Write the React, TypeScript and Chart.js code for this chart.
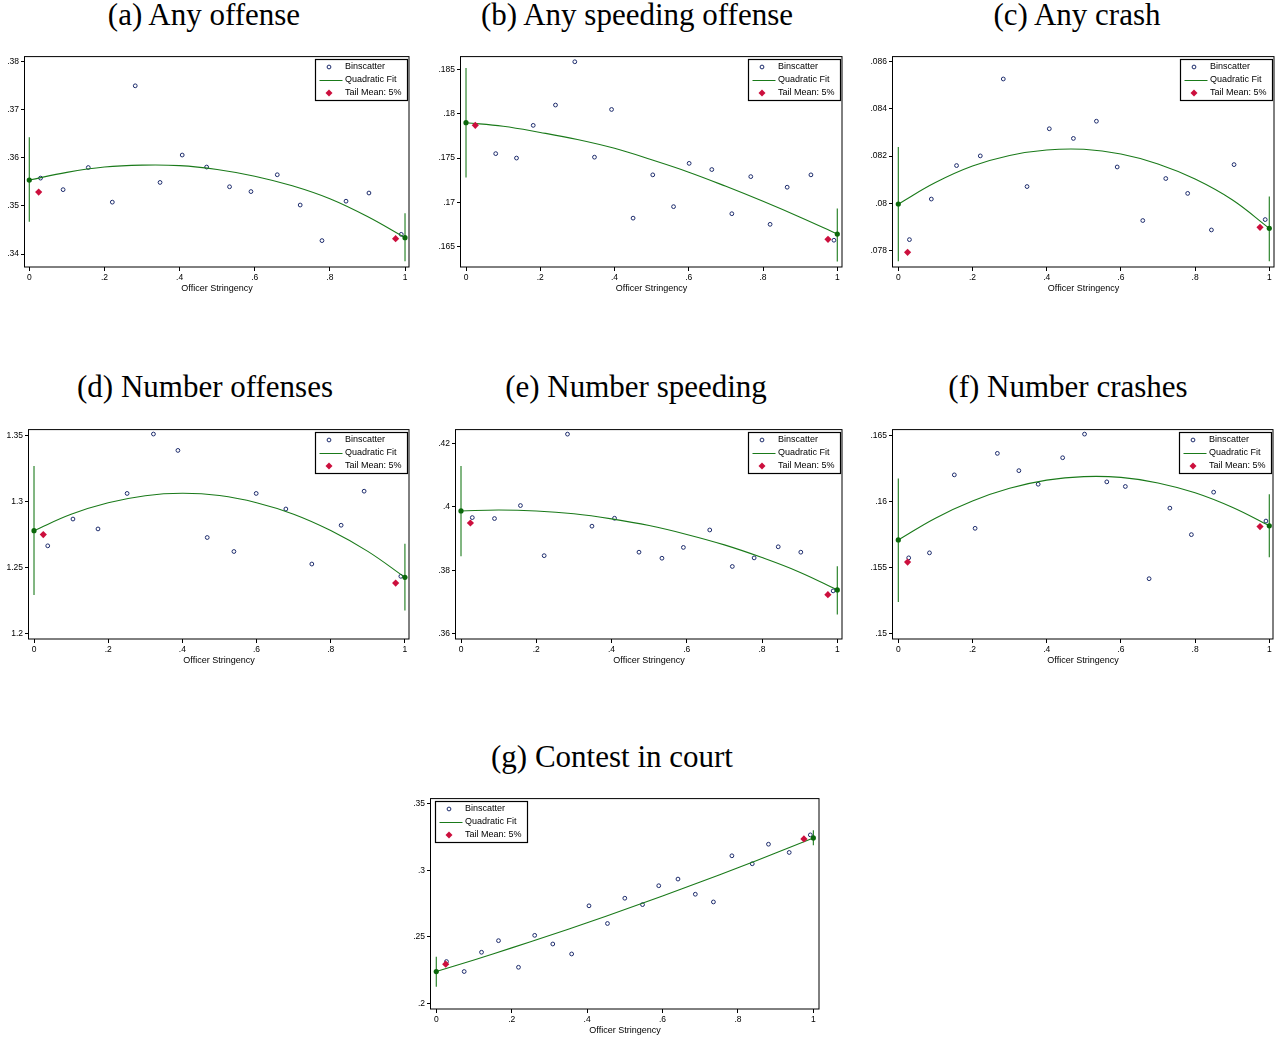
import React, { useEffect, useRef } from "react";
import { Chart, registerables } from "chart.js";

Chart.register(...registerables);
Chart.defaults.font.family = "'Liberation Sans', Arial, sans-serif";
Chart.defaults.color = "#000";

// ---------- shared ----------
const xTicks = [0, 0.2, 0.4, 0.6, 0.8, 1];
const fitX = [0, 0.1, 0.2, 0.3, 0.4, 0.5, 0.6, 0.7, 0.8, 0.9, 1];
const endX = [0, 1];
const tailX = [0.025, 0.975];
const xAxisTitle = "Officer Stringency";
const legendLabels = ["Binscatter", "Quadratic Fit", "Tail Mean: 5%"];

// ---------- (a) Any offense ----------
const aTitle = "(a) Any offense";
const aYTicks = [0.34, 0.35, 0.36, 0.37, 0.38];
const aBinX = [0.03, 0.09, 0.157, 0.221, 0.282, 0.348, 0.407, 0.472, 0.533, 0.59, 0.66, 0.721, 0.779, 0.843, 0.904, 0.99];
const aBinY = [0.3558, 0.3534, 0.358, 0.3508, 0.375, 0.3549, 0.3606, 0.3581, 0.354, 0.353, 0.3565, 0.3502, 0.3428, 0.351, 0.3527, 0.3441];
const aFitY = [0.3554, 0.357, 0.3581, 0.3585, 0.3584, 0.3576, 0.3562, 0.3542, 0.3515, 0.3478, 0.3434];
const aEndY = [0.3554, 0.3434];
const aCiLo = [0.3467, 0.3385];
const aCiHi = [0.3643, 0.3485];
const aTailY = [0.3529, 0.3432];

// ---------- (b) Any speeding offense ----------
const bTitle = "(b) Any speeding offense";
const bYTicks = [0.165, 0.17, 0.175, 0.18, 0.185];
const bBinX = [0.08, 0.136, 0.181, 0.241, 0.293, 0.346, 0.392, 0.45, 0.503, 0.559, 0.601, 0.662, 0.716, 0.767, 0.819, 0.865, 0.929, 0.991];
const bBinY = [0.1755, 0.175, 0.1787, 0.181, 0.1859, 0.1751, 0.1805, 0.1682, 0.1731, 0.1695, 0.1744, 0.1737, 0.1687, 0.1729, 0.1675, 0.1717, 0.1731, 0.1657];
const bFitY = [0.179, 0.1786, 0.1779, 0.1771, 0.1761, 0.1748, 0.1734, 0.1718, 0.1701, 0.1683, 0.1664];
const bEndY = [0.179, 0.1664];
const bCiLo = [0.1728, 0.1633];
const bCiHi = [0.1852, 0.1693];
const bTailY = [0.1787, 0.1658];

// ---------- (c) Any crash ----------
const cTitle = "(c) Any crash";
const cYTicks = [0.078, 0.08, 0.082, 0.084, 0.086];
const cBinX = [0.03, 0.089, 0.157, 0.221, 0.283, 0.347, 0.407, 0.472, 0.534, 0.59, 0.659, 0.721, 0.78, 0.844, 0.905, 0.989];
const cBinY = [0.07846, 0.08018, 0.0816, 0.08201, 0.08527, 0.08071, 0.08316, 0.08275, 0.08348, 0.08154, 0.07927, 0.08105, 0.08042, 0.07887, 0.08164, 0.07931];
const cFitY = [0.07997, 0.08088, 0.08158, 0.08203, 0.08226, 0.08229, 0.08209, 0.08167, 0.08103, 0.08015, 0.07894];
const cEndY = [0.07997, 0.07894];
const cCiLo = [0.07754, 0.07754];
const cCiHi = [0.08239, 0.08029];
const cTailY = [0.07792, 0.07898];

// ---------- (d) Number offenses ----------
const dTitle = "(d) Number offenses";
const dYTicks = [1.2, 1.25, 1.3, 1.35];
const dBinX = [0.037, 0.105, 0.1725, 0.251, 0.322, 0.388, 0.467, 0.539, 0.599, 0.679, 0.749, 0.828, 0.89, 0.989];
const dBinY = [1.2666, 1.2869, 1.2794, 1.3063, 1.3513, 1.3389, 1.2729, 1.2623, 1.3063, 1.2945, 1.2528, 1.2822, 1.308, 1.2435];
const dFitY = [1.2781, 1.2905, 1.2992, 1.3046, 1.3064, 1.3047, 1.2993, 1.2906, 1.2782, 1.2624, 1.2427];
const dEndY = [1.2781, 1.2427];
const dCiLo = [1.2294, 1.2176];
const dCiHi = [1.3271, 1.2681];
const dTailY = [1.2751, 1.2384];

// ---------- (e) Number speeding ----------
const eTitle = "(e) Number speeding";
const eYTicks = [0.36, 0.38, 0.4, 0.42];
const eBinX = [0.03, 0.089, 0.158, 0.221, 0.283, 0.348, 0.408, 0.473, 0.534, 0.591, 0.661, 0.721, 0.779, 0.843, 0.903, 0.989];
const eBinY = [0.3966, 0.3963, 0.4004, 0.3846, 0.4229, 0.3939, 0.3964, 0.3857, 0.3838, 0.3872, 0.3927, 0.3812, 0.3839, 0.3874, 0.3857, 0.3735];
const eFitY = [0.3987, 0.399, 0.3987, 0.3978, 0.3962, 0.3941, 0.3913, 0.388, 0.384, 0.3794, 0.3738];
const eEndY = [0.3987, 0.3738];
const eCiLo = [0.3844, 0.3661];
const eCiHi = [0.4129, 0.3813];
const eTailY = [0.3949, 0.3723];

// ---------- (f) Number crashes ----------
const fTitle = "(f) Number crashes";
const fYTicks = [0.15, 0.155, 0.16, 0.165];
const fBinX = [0.028, 0.084, 0.151, 0.207, 0.267, 0.325, 0.377, 0.443, 0.502, 0.562, 0.612, 0.676, 0.732, 0.79, 0.85, 0.991];
const fBinY = [0.15575, 0.15613, 0.16204, 0.15799, 0.16367, 0.16236, 0.16133, 0.16334, 0.16513, 0.16151, 0.16116, 0.15417, 0.15952, 0.15751, 0.16073, 0.15854];
const fFitY = [0.15711, 0.15876, 0.16006, 0.16102, 0.16164, 0.16191, 0.16185, 0.16143, 0.16068, 0.15958, 0.15818];
const fEndY = [0.15711, 0.15818];
const fCiLo = [0.15241, 0.1558];
const fCiHi = [0.16176, 0.16058];
const fTailY = [0.15543, 0.15812];

// ---------- (g) Contest in court ----------
const gTitle = "(g) Contest in court";
const gYTicks = [0.2, 0.25, 0.3, 0.35];
const gBinX = [0.027, 0.074, 0.12, 0.165, 0.218, 0.261, 0.309, 0.359, 0.405, 0.454, 0.5, 0.547, 0.59, 0.641, 0.687, 0.735, 0.784, 0.838, 0.881, 0.936, 0.992];
const gBinY = [0.2314, 0.2239, 0.2384, 0.2471, 0.2271, 0.2511, 0.2446, 0.2371, 0.2733, 0.26, 0.279, 0.2742, 0.2884, 0.2934, 0.282, 0.2762, 0.3109, 0.3049, 0.3196, 0.3134, 0.3266];
const gFitY = [0.2239, 0.2326, 0.2417, 0.251, 0.2606, 0.2705, 0.2807, 0.2912, 0.3019, 0.313, 0.3243];
const gEndY = [0.2239, 0.3243];
const gCiLo = [0.2124, 0.3189];
const gCiHi = [0.2351, 0.3301];
const gTailY = [0.2294, 0.3236];

// ---------- styles ----------
const NAVY = "#1b2a6b";
const GREEN_LINE = "#1a7a1a";
const GREEN_DOT = "#0b680b";
const RED = "#cc0f3d";

type Panel = {
  title: string;
  cx: number;
  baseline: number;
  L: number; T: number; R: number; B: number;
  xMin: number; xMax: number; yMin: number; yMax: number;
  yTicks: number[];
  binX: number[]; binY: number[]; fitY: number[];
  endY: number[]; ciLo: number[]; ciHi: number[]; tailY: number[];
  corner: "tl" | "tr";
};

const panels: Panel[] = [
  { title: aTitle, cx: 204, baseline: 25, L: 25, T: 55, R: 409, B: 267, xMin: -0.0114, xMax: 1.0106, yMin: 0.33731, yMax: 0.38118, yTicks: aYTicks, binX: aBinX, binY: aBinY, fitY: aFitY, endY: aEndY, ciLo: aCiLo, ciHi: aCiHi, tailY: aTailY, corner: "tr" },
  { title: bTitle, cx: 637, baseline: 25, L: 461, T: 55, R: 842, B: 267, xMin: -0.0135, xMax: 1.0127, yMin: 0.16267, yMax: 0.18654, yTicks: bYTicks, binX: bBinX, binY: bBinY, fitY: bFitY, endY: bEndY, ciLo: bCiLo, ciHi: bCiHi, tailY: bTailY, corner: "tr" },
  { title: cTitle, cx: 1077, baseline: 25, L: 893, T: 55, R: 1274, B: 267, xMin: -0.0143, xMax: 1.0127, yMin: 0.0773, yMax: 0.08624, yTicks: cYTicks, binX: cBinX, binY: cBinY, fitY: cFitY, endY: cEndY, ciLo: cCiLo, ciHi: cCiHi, tailY: cTailY, corner: "tr" },
  { title: dTitle, cx: 205, baseline: 397, L: 29, T: 428, R: 409, B: 639, xMin: -0.0135, xMax: 1.011, yMin: 1.196, yMax: 1.35505, yTicks: dYTicks, binX: dBinX, binY: dBinY, fitY: dFitY, endY: dEndY, ciLo: dCiLo, ciHi: dCiHi, tailY: dTailY, corner: "tr" },
  { title: eTitle, cx: 636, baseline: 397, L: 456, T: 428, R: 842, B: 639, xMin: -0.0133, xMax: 1.0125, yMin: 0.35834, yMax: 0.42449, yTicks: eYTicks, binX: eBinX, binY: eBinY, fitY: eFitY, endY: eEndY, ciLo: eCiLo, ciHi: eCiHi, tailY: eTailY, corner: "tr" },
  { title: fTitle, cx: 1068, baseline: 397, L: 893, T: 428, R: 1273, B: 639, xMin: -0.0143, xMax: 1.01, yMin: 0.1496, yMax: 0.16551, yTicks: fYTicks, binX: fBinX, binY: fBinY, fitY: fFitY, endY: fEndY, ciLo: fCiLo, ciHi: fCiHi, tailY: fTailY, corner: "tr" },
  { title: gTitle, cx: 612, baseline: 767, L: 431, T: 797, R: 819, B: 1009, xMin: -0.014, xMax: 1.015, yMin: 0.19574, yMax: 0.35426, yTicks: gYTicks, binX: gBinX, binY: gBinY, fitY: gFitY, endY: gEndY, ciLo: gCiLo, ciHi: gCiHi, tailY: gTailY, corner: "tl" },
];

const fmt = (v: number) => {
  const s = String(+Number(v).toFixed(4));
  return s.startsWith("0.") ? s.slice(1) : s;
};

const framePlugin = {
  id: "frameBox",
  afterDatasetsDraw(chart: any) {
    const { ctx, chartArea: ca } = chart;
    ctx.save();
    ctx.strokeStyle = "#000";
    ctx.lineWidth = 1;
    ctx.strokeRect(ca.left - 0.5, ca.top + 0.5, ca.right - ca.left + 0.5, ca.bottom - ca.top - 0.5);
    ctx.restore();
  },
};

const legendPlugin = {
  id: "boxLegend",
  afterDraw(chart: any, _args: any, opts: any) {
    const { ctx, chartArea: ca } = chart;
    const w = 93;
    const h = 42;
    const x = opts.corner === "tl" ? Math.round(ca.left + 3.5) : Math.round(ca.right - 1.5 - w);
    const y = Math.round(ca.top + 3);
    ctx.save();
    ctx.fillStyle = "#fff";
    ctx.fillRect(x, y, w, h);
    ctx.strokeStyle = "#000";
    ctx.lineWidth = 1.2;
    ctx.strokeRect(x + 0.5, y + 0.5, w - 1, h - 1);
    const rows = [y + 8, y + 21, y + 34];
    const sx = x + 14;
    // circle
    ctx.beginPath();
    ctx.arc(sx, rows[0], 1.9, 0, Math.PI * 2);
    ctx.strokeStyle = NAVY;
    ctx.lineWidth = 1;
    ctx.stroke();
    // line
    ctx.beginPath();
    ctx.moveTo(x + 4.5, rows[1] + 0.5);
    ctx.lineTo(x + 27.5, rows[1] + 0.5);
    ctx.strokeStyle = GREEN_LINE;
    ctx.lineWidth = 1;
    ctx.stroke();
    // diamond
    ctx.beginPath();
    ctx.moveTo(sx, rows[2] - 3.5);
    ctx.lineTo(sx + 3.5, rows[2]);
    ctx.lineTo(sx, rows[2] + 3.5);
    ctx.lineTo(sx - 3.5, rows[2]);
    ctx.closePath();
    ctx.fillStyle = RED;
    ctx.fill();
    ctx.fillStyle = "#000";
    ctx.font = "9px 'Liberation Sans', Arial, sans-serif";
    ctx.textBaseline = "middle";
    ctx.textAlign = "left";
    (opts.labels as string[]).forEach((t, i) => ctx.fillText(t, x + 30, rows[i]));
    ctx.restore();
  },
};

const YW = 30;
const PT = 6;
const PR = 6;
const XH = 31;

function PanelChart({ p }: { p: Panel }) {
  const ref = useRef<HTMLCanvasElement>(null);
  const width = p.R - p.L + YW + PR;
  const height = p.B - p.T + PT + XH;
  useEffect(() => {
    if (!ref.current) return;
    const pts = (xs: number[], ys: number[]) => xs.map((x, i) => ({ x, y: ys[i] }));
    const chart = new Chart(ref.current, {
      type: "scatter",
      data: {
        datasets: [
          {
            label: "Fit endpoints",
            data: pts(endX, p.endY),
            pointRadius: 2.6,
            pointBackgroundColor: GREEN_DOT,
            pointBorderColor: GREEN_DOT,
            pointBorderWidth: 0,
            showLine: false,
          },
          {
            label: legendLabels[2],
            data: pts(tailX, p.tailY),
            pointStyle: "rectRot",
            pointRadius: 3.6,
            pointBackgroundColor: RED,
            pointBorderColor: RED,
            pointBorderWidth: 0,
            showLine: false,
          },
          {
            label: legendLabels[1],
            data: pts(fitX, p.fitY),
            showLine: true,
            borderColor: GREEN_LINE,
            borderWidth: 1.1,
            pointRadius: 0,
            tension: 0.4,
            fill: false,
          },
          {
            label: "CI left",
            data: [{ x: endX[0], y: p.ciLo[0] }, { x: endX[0], y: p.ciHi[0] }],
            showLine: true,
            borderColor: GREEN_LINE,
            borderWidth: 1.1,
            pointRadius: 0,
          },
          {
            label: "CI right",
            data: [{ x: endX[1], y: p.ciLo[1] }, { x: endX[1], y: p.ciHi[1] }],
            showLine: true,
            borderColor: GREEN_LINE,
            borderWidth: 1.1,
            pointRadius: 0,
          },
          {
            label: legendLabels[0],
            data: pts(p.binX, p.binY),
            pointStyle: "circle",
            pointRadius: 1.9,
            pointBackgroundColor: "rgba(255,255,255,0)",
            pointBorderColor: NAVY,
            pointBorderWidth: 1,
            showLine: false,
          },
        ] as any,
      },
      options: {
        animation: false,
        responsive: false,
        maintainAspectRatio: false,
        devicePixelRatio: 1,
        events: [],
        layout: { padding: { top: PT, right: PR, left: 0, bottom: 0 } },
        plugins: {
          legend: { display: false },
          tooltip: { enabled: false },
          boxLegend: { corner: p.corner, labels: legendLabels },
        } as any,
        scales: {
          x: {
            type: "linear",
            min: p.xMin,
            max: p.xMax,
            afterBuildTicks: (s: any) => {
              s.ticks = xTicks.map((v) => ({ value: v }));
            },
            afterFit: (s: any) => {
              s.height = XH;
            },
            grid: { display: true, drawOnChartArea: false, drawTicks: true, tickLength: 4, color: "#000", lineWidth: 1 },
            border: { display: false },
            ticks: {
              font: { size: 8.5 },
              color: "#000",
              padding: 2,
              maxRotation: 0,
              autoSkip: false,
              callback: (v: any) => fmt(v),
            },
            title: {
              display: true,
              text: xAxisTitle,
              font: { size: 9 },
              color: "#000",
              padding: { top: 0, bottom: 4 },
            },
          },
          y: {
            type: "linear",
            min: p.yMin,
            max: p.yMax,
            afterBuildTicks: (s: any) => {
              s.ticks = p.yTicks.map((v) => ({ value: v }));
            },
            afterFit: (s: any) => {
              s.width = YW;
            },
            grid: { display: true, drawOnChartArea: false, drawTicks: true, tickLength: 4, color: "#000", lineWidth: 1 },
            border: { display: false },
            ticks: {
              font: { size: 8.5 },
              color: "#000",
              padding: 2,
              autoSkip: false,
              callback: (v: any) => fmt(v),
            },
          },
        } as any,
      },
      plugins: [framePlugin, legendPlugin],
    });
    return () => chart.destroy();
  }, [p]);
  return (
    <canvas
      ref={ref}
      width={width}
      height={height}
      style={{ position: "absolute", left: p.L - YW, top: p.T - PT, width, height }}
    />
  );
}

export default function App() {
  return (
    <div style={{ position: "absolute", left: 0, top: 0, width: 1281, height: 1040, background: "#fff", overflow: "hidden" }}>
      {panels.map((p) => (
        <div
          key={p.title + "-t"}
          style={{
            position: "absolute",
            left: p.cx - 250,
            top: p.baseline - 26,
            width: 500,
            textAlign: "center",
            fontFamily: "'Liberation Serif', 'Times New Roman', serif",
            fontSize: 31,
            lineHeight: "31px",
            color: "#000",
            whiteSpace: "nowrap",
          }}
        >
          {p.title}
        </div>
      ))}
      {panels.map((p) => (
        <PanelChart key={p.title} p={p} />
      ))}
    </div>
  );
}
